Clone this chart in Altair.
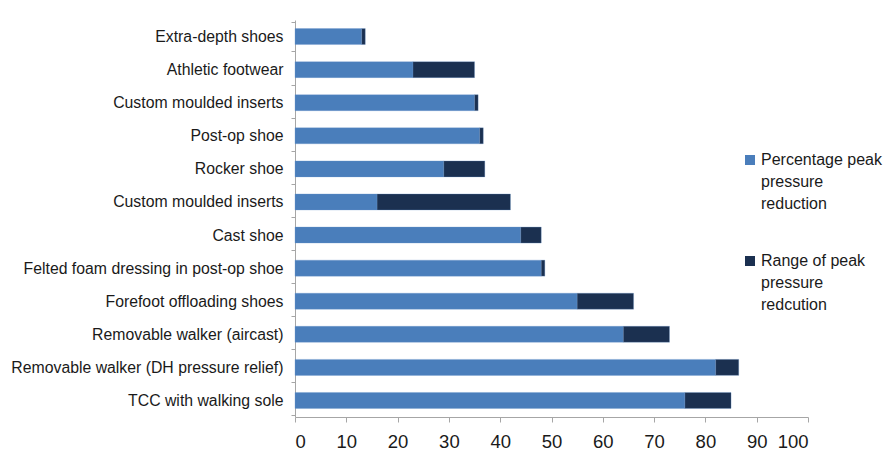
import altair as alt
import pandas as pd

categories = [
    "Extra-depth shoes",
    "Athletic footwear",
    "Custom moulded inserts",
    "Post-op shoe",
    "Rocker shoe",
    "Custom moulded inserts",
    "Cast shoe",
    "Felted foam dressing in post-op shoe",
    "Forefoot offloading shoes",
    "Removable walker (aircast)",
    "Removable walker (DH pressure relief)",
    "TCC with walking sole",
]
peak_reduction = [13, 23, 35, 36, 29, 16, 44, 48, 55, 64, 82, 76]
range_reduction = [0.7, 12, 0.7, 0.7, 8, 26, 4, 0.7, 11, 9, 4.5, 9]
series = ["Percentage peak pressure reduction", "Range of peak pressure redcution"]
series_lines = [["Percentage peak", "pressure", "reduction"], ["Range of peak", "pressure", "redcution"]]
colors = ["#4A7EBB", "#1B3050"]
x_ticks = list(range(0, 101, 10))

rows = []
for i, (p, r) in enumerate(zip(peak_reduction, range_reduction)):
    rows.append({"idx": i, "series": series[0], "value": p, "ord": 0})
    rows.append({"idx": i, "series": series[1], "value": r, "ord": 1})
df = pd.DataFrame(rows)

label_expr = "[" + ",".join("'" + c + "'" for c in categories) + "][datum.value]"
legend_expr = (
    "datum.label == '" + series[0] + "' ? ["
    + ",".join("'" + s + "'" for s in series_lines[0])
    + "] : [" + ",".join("'" + s + "'" for s in series_lines[1]) + "]"
)

FONT = "Liberation Sans"

chart = (
    alt.Chart(df)
    .mark_bar(size=16, stroke="#6C96CC", strokeWidth=0.6, strokeOpacity=0.5)
    .encode(
        y=alt.Y(
            "idx:O",
            sort="ascending",
            axis=alt.Axis(
                title=None,
                labelExpr=label_expr,
                tickBand="extent",
                labelFont=FONT,
                labelFontSize=15.8,
                labelColor="#1a1a1a",
                domainColor="#a6a6a6",
                tickColor="#a6a6a6",
                tickSize=4,
                labelPadding=8,
                labelLimit=400,
            ),
        ),
        x=alt.X(
            "value:Q",
            stack="zero",
            scale=alt.Scale(domain=[0, 100], nice=False),
            axis=alt.Axis(
                title=None,
                values=x_ticks,
                grid=False,
                labelFont=FONT,
                labelFontSize=18.5,
                labelColor="#1a1a1a",
                domainColor="#a6a6a6",
                tickColor="#a6a6a6",
                tickSize=5,
                labelPadding=10,
            ),
        ),
        color=alt.Color(
            "series:N",
            scale=alt.Scale(domain=series, range=colors),
            legend=alt.Legend(
                title=None,
                orient="none",
                legendX=447,
                legendY=132,
                labelExpr=legend_expr,
                labelFont=FONT,
                labelFontSize=16,
                labelColor="#1a1a1a",
                labelBaseline="middle",
                labelOffset=3,
                labelLimit=300,
                symbolType="square",
                symbolSize=100,
                symbolStrokeWidth=0,
                rowPadding=41,
            ),
        ),
        order=alt.Order("ord:Q"),
    )
    .properties(
        width=513,
        height=397,
        autosize=alt.AutoSizeParams(type="none"),
        padding={"left": 295, "top": 20, "right": 85, "bottom": 34},
    )
    .configure(
        background="white",
        view=alt.ViewConfig(stroke=None),
        style={"guide-label": {"lineHeight": 22}},
    )
)

chart.save("out.html", embed_options={"renderer": "svg", "actions": False})
